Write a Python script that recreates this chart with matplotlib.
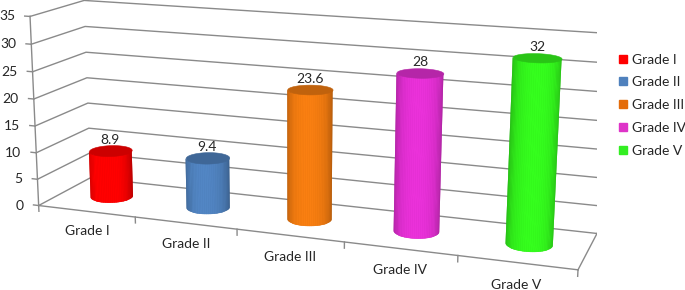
import numpy as np
import matplotlib
matplotlib.use('Agg')
import matplotlib.pyplot as plt
from matplotlib.lines import Line2D
from matplotlib.colors import to_rgb
from mpl_toolkits.mplot3d import proj3d
from mpl_toolkits.mplot3d.art3d import Poly3DCollection

# ---- data ----
categories = ['Grade I', 'Grade II', 'Grade III', 'Grade IV', 'Grade V']
values = [8.9, 9.4, 23.6, 28, 32]
bar_colors = ['#FF0000', '#4F81BD', '#F07A10', '#E22FD2', '#33F51C']
legend_colors = ['#FF0000', '#4F81BD', '#E46C0A', '#DE34C8', '#33EE22']
z_ticks = [0, 5, 10, 15, 20, 25, 30, 35]

plt.rcParams['font.family'] = ['Lato', 'DejaVu Sans']
plt.rcParams['font.size'] = 10
TXT = '#262626'
GRID = '#8a8a8a'

W, H = 685, 290
fig = plt.figure(figsize=(W / 100, H / 100), dpi=100)
fig.patch.set_facecolor('white')
ax = fig.add_axes([0.00978, -0.47130, 0.86177, 2.03555], projection='3d',
                  computed_zorder=False)
n = len(categories)
zmax = z_ticks[-1]


def set_view():
    ax.set_xlim(0, n)
    ax.set_ylim(0, 1)
    ax.set_zlim(0, zmax)


set_view()
ax.set_box_aspect((1, 0.1989, 0.3556))
ax.view_init(13.9078, -70.0301, -0.1723)
ax.set_proj_type('persp', focal_length=0.4386)
ax.set_axis_off()
M = ax.get_proj()


def P(x, y, z):
    px, py, _ = proj3d.proj_transform(np.atleast_1d(np.asarray(x, float)),
                                      np.atleast_1d(np.asarray(y, float)),
                                      np.atleast_1d(np.asarray(z, float)), M)
    return np.asarray(px), np.asarray(py)


# walls: gridlines on left wall and back wall
for z in z_ticks:
    ax.plot([0, 0, n], [0, 1, 1], [z, z, z], color=GRID, lw=1.0, zorder=1)
# value axis (front-left edge) with ticks and labels
ax.plot([0, 0], [0, 0], [0, zmax], color=GRID, lw=1.0, zorder=1)
for z in z_ticks:
    ax.plot([0, -0.055], [0, 0], [z, z], color=GRID, lw=1.0, zorder=1)
    px, py = P(0, 0, z)
    ax.annotate(f'{z}', xy=(px[0], py[0]), xycoords='data', xytext=(-10.8, 0),
                textcoords='offset points', ha='right', va='center', color=TXT,
                zorder=6)
# floor edges
ax.plot([0, n], [0, 0], [0, 0], color=GRID, lw=1.0, zorder=1)
ax.plot([n, n], [0, 1], [0, 0], color=GRID, lw=1.0, zorder=1)
for k in range(n + 1):
    ax.plot([k, k], [0, 0], [0, -1.1], color=GRID, lw=1.0, zorder=1)

# cylinders
r = 0.2
th = np.linspace(-np.pi, np.pi, 73)
lig = np.deg2rad(-76)
for i, (v, c) in enumerate(zip(values, bar_colors)):
    cx, cy = i + 0.5, 0.5
    base = np.array(to_rgb(c))
    verts, cols, ecols, kept = [], [], [], []
    for a0, a1 in zip(th[:-1], th[1:]):
        am = 0.5 * (a0 + a1)
        x0, y0 = cx + r * np.cos(a0), cy + r * np.sin(a0)
        x1, y1 = cx + r * np.cos(a1), cy + r * np.sin(a1)
        quad = [(x0, y0, 0), (x1, y1, 0), (x1, y1, v), (x0, y0, v)]
        qx, qy = P([q[0] for q in quad], [q[1] for q in quad], [q[2] for q in quad])
        pix = ax.transData.transform(np.c_[qx, qy])
        area = 0.5 * np.sum(pix[:, 0] * np.roll(pix[:, 1], -1)
                            - np.roll(pix[:, 0], -1) * pix[:, 1])
        if area <= 0:
            continue
        height = abs(0.5 * (pix[2, 1] + pix[3, 1]) - 0.5 * (pix[0, 1] + pix[1, 1]))
        width = area / max(height, 1e-6)
        d = max(np.cos(am - lig), 0.0)
        s = 0.72 + 0.32 * d ** 0.8
        col = np.clip(base * s, 0, 1)
        verts.append(quad)
        cols.append(col)
        ecols.append(tuple(col) + (1.0,) if width > 1.3 else (0, 0, 0, 0))
        kept.append((a0, a1))
    # antialiased silhouette underneath the facets (hides seams between facets)
    angs = [kept[0][0]] + [k[1] for k in kept]
    outline = ([(cx + r * np.cos(a), cy + r * np.sin(a), 0) for a in angs] +
               [(cx + r * np.cos(a), cy + r * np.sin(a), v) for a in angs[::-1]])
    sil = Poly3DCollection([outline], facecolors=[np.clip(base * 0.78, 0, 1)],
                           edgecolors='none')
    sil.set_zorder(2)
    ax.add_collection3d(sil, autolim=False)
    side = Poly3DCollection(verts, facecolors=cols, edgecolors=ecols, linewidths=0.35)
    side.set_zorder(2.5)
    ax.add_collection3d(side, autolim=False)
    top_col = np.clip(base * 0.80, 0, 1)
    top = Poly3DCollection([[(cx + r * np.cos(a), cy + r * np.sin(a), v) for a in th]],
                           facecolors=[top_col], edgecolors=[top_col], linewidths=0.4)
    top.set_zorder(3)
    ax.add_collection3d(top, autolim=False)
    px, py = P(cx, cy, v)
    ax.annotate(f'{v:g}', xy=(px[0], py[0]), xycoords='data', xytext=(0, 7.8),
                textcoords='offset points', ha='center', va='center', color=TXT,
                zorder=6)

# category labels
for i, cat in enumerate(categories):
    px, py = P(i + 0.5, 0, -3.85)
    ax.annotate(cat, xy=(px[0], py[0]), xycoords='data', ha='center', va='center',
                color=TXT, zorder=6)

set_view()

handles = [Line2D([], [], marker='s', linestyle='none', markersize=5.8,
                  markerfacecolor=c, markeredgecolor=c) for c in legend_colors]
fig.legend(handles, categories, loc='upper left',
           bbox_to_anchor=(619 / W, 1 - 53.5 / H), frameon=False, fontsize=10,
           handlelength=0.6, handletextpad=0.35, labelspacing=0.78,
           borderpad=0, borderaxespad=0, labelcolor=TXT)

fig.savefig('out.png', dpi=100, facecolor='white')
